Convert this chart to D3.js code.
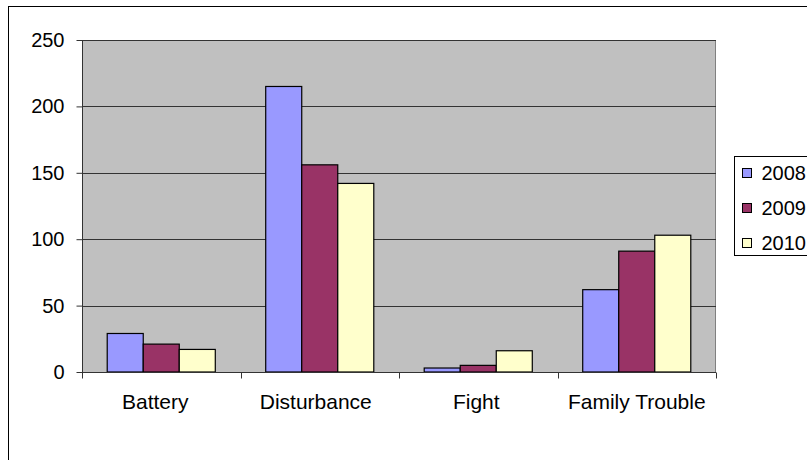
<!DOCTYPE html>
<html>
<head>
<meta charset="utf-8">
<script src="https://cdn.jsdelivr.net/npm/d3@7"></script>
<style>
  body { margin: 0; background: #fff; overflow: hidden; }
  text { font-family: "Liberation Sans", Arial, sans-serif; font-size: 20px; fill: #000; }
</style>
</head>
<body>
<div id="chart"></div>
<script>
// chart data
const categories = ["Battery", "Disturbance", "Fight", "Family Trouble"];
const years = ["2008", "2009", "2010"];
const values2008 = [29, 215, 3, 62];
const values2009 = [21, 156, 5, 91];
const values2010 = [17, 142, 16, 103];
const yTicks = [0, 50, 100, 150, 200, 250];
const colors = ["#9999FF", "#993366", "#FFFFCC"];

const width = 807;
const height = 460;
const plot = { left: 82, top: 40, right: 716, bottom: 372 };

const svg = d3.select("#chart")
  .append("svg")
  .attr("width", width)
  .attr("height", height);

// outer chart border (runs off the right and bottom edges)
svg.append("rect")
  .attr("x", 8.5)
  .attr("y", 6.5)
  .attr("width", 900)
  .attr("height", 500)
  .attr("fill", "#fff")
  .attr("stroke", "#000");

const x = d3.scaleBand()
  .domain(categories)
  .range([plot.left, plot.right]);

// labels sit on a slightly wider spacing than the bars
const xLabel = d3.scaleBand()
  .domain(categories)
  .range([plot.left - 7, plot.right + 1]);

const xInner = d3.scaleBand()
  .domain(years)
  .range([0, x.bandwidth()])
  .paddingOuter(0.7);

const y = d3.scaleLinear()
  .domain([0, 250])
  .range([plot.bottom, plot.top]);

// plot area
svg.append("rect")
  .attr("x", plot.left)
  .attr("y", plot.top)
  .attr("width", plot.right - plot.left)
  .attr("height", plot.bottom - plot.top)
  .attr("fill", "#C0C0C0");

svg.append("line")
  .attr("x1", plot.right - 0.5)
  .attr("x2", plot.right - 0.5)
  .attr("y1", plot.top)
  .attr("y2", plot.bottom)
  .attr("stroke", "#808080");

// gridlines
svg.append("g")
  .selectAll("line")
  .data(yTicks.filter(d => d > 0))
  .enter()
  .append("line")
  .attr("x1", plot.left)
  .attr("x2", plot.right)
  .attr("y1", d => Math.round(y(d)) + 0.5)
  .attr("y2", d => Math.round(y(d)) + 0.5)
  .attr("stroke", "#333");

// bars
const series = [values2008, values2009, values2010];
const groups = svg.append("g")
  .selectAll("g")
  .data(categories)
  .enter()
  .append("g")
  .attr("transform", d => `translate(${x(d)},0)`);

groups.selectAll("rect")
  .data((d, i) => years.map((yr, j) => ({ year: yr, value: series[j][i], color: colors[j] })))
  .enter()
  .append("rect")
  .attr("x", d => xInner(d.year))
  .attr("y", d => y(d.value))
  .attr("width", xInner.bandwidth())
  .attr("height", d => y(0) - y(d.value))
  .attr("fill", d => d.color)
  .attr("stroke", "#000")
  .attr("stroke-width", 1.2);

// y axis
const yAxis = svg.append("g")
  .attr("transform", `translate(${plot.left + 0.5},0)`)
  .call(d3.axisLeft(y).tickValues(yTicks).tickSize(6).tickPadding(12).tickFormat(d3.format("d")));
yAxis.select(".domain").attr("stroke", "#333").attr("d", `M0,${plot.top}V${plot.bottom}`);
yAxis.selectAll(".tick line").attr("stroke", "#333");
yAxis.selectAll("text").style("font-size", "20px").attr("fill", "#000");

// x axis with ticks between categories
const xAxis = svg.append("g")
  .attr("transform", `translate(0,${plot.bottom + 0.5})`);
xAxis.append("line")
  .attr("x1", plot.left)
  .attr("x2", plot.right)
  .attr("stroke", "#333");
xAxis.selectAll(".sep")
  .data(categories.concat([null]))
  .enter()
  .append("line")
  .attr("class", "sep")
  .attr("x1", (d, i) => Math.round(plot.left + i * x.step()) + 0.5)
  .attr("x2", (d, i) => Math.round(plot.left + i * x.step()) + 0.5)
  .attr("y1", 0)
  .attr("y2", 6)
  .attr("stroke", "#333");
xAxis.selectAll(".lbl")
  .data(categories)
  .enter()
  .append("text")
  .attr("class", "lbl")
  .attr("x", d => xLabel(d) + xLabel.bandwidth() / 2)
  .attr("y", 36)
  .attr("text-anchor", "middle")
  .style("font-size", "21px")
  .text(d => d);

// legend
const legend = svg.append("g").attr("transform", "translate(734.5,156.5)");
legend.append("rect")
  .attr("width", 120)
  .attr("height", 99)
  .attr("fill", "#fff")
  .attr("stroke", "#000");

const item = legend.selectAll(".item")
  .data(years)
  .enter()
  .append("g")
  .attr("class", "item")
  .attr("transform", (d, i) => `translate(0,${16.5 + i * 35})`);

item.append("rect")
  .attr("x", 8)
  .attr("y", -4.5)
  .attr("width", 9)
  .attr("height", 9)
  .attr("fill", (d, i) => colors[i])
  .attr("stroke", "#000");

item.append("text")
  .attr("x", 27)
  .attr("y", 7)
  .text(d => d);
</script>
</body>
</html>
